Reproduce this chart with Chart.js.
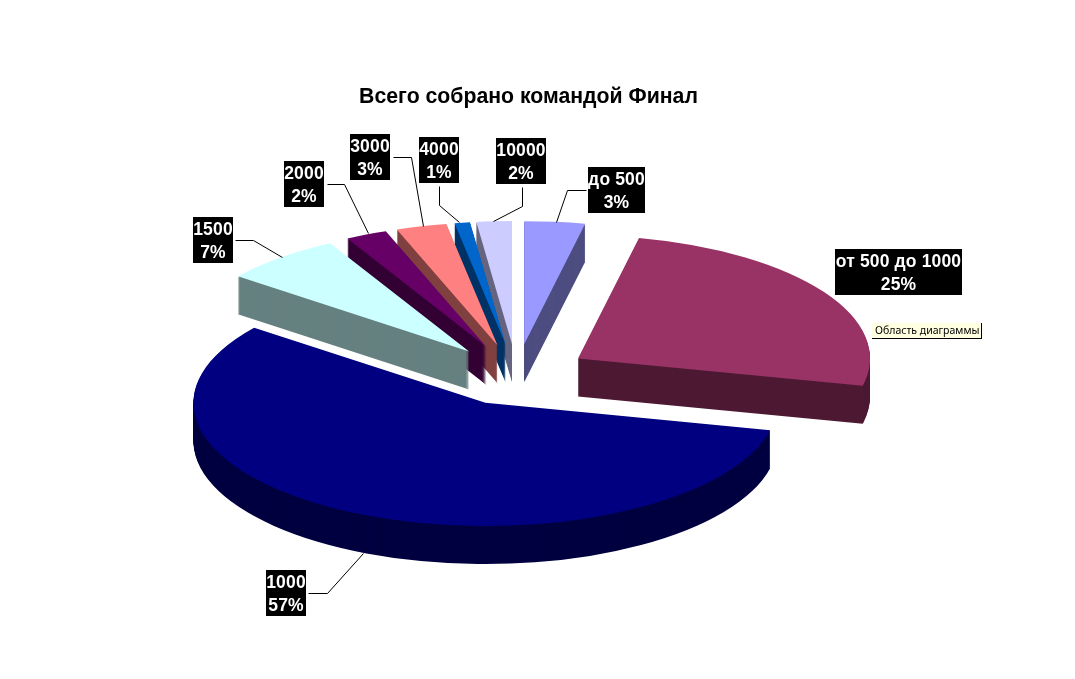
<!DOCTYPE html>
<html lang="ru">
<head>
<meta charset="utf-8">
<title>Всего собрано командой Финал</title>
<style>html,body{margin:0;padding:0;background:#fff}canvas{display:block}</style>
<script src="https://cdn.jsdelivr.net/npm/chart.js@4/dist/chart.umd.min.js"></script>
</head>
<body>
<canvas id="c" width="1075" height="679"></canvas>
<script>
// --- data ---
const categories = ['до 500','от 500 до 1000','1000','1500','2000','3000','4000','10000'];
const shares = [3.35, 25.2, 56.9, 6.65, 2.3, 2.8, 0.85, 1.95];
const percentLabels = ['3%','25%','57%','7%','2%','3%','1%','2%'];
const titleText = 'Всего собрано командой Финал';
const hintText = 'Область диаграммы';
// --- style ---
const topColors  = ['#9999ff','#993366','#000080','#ccffff','#660066','#ff8080','#0066cc','#ccccff'];
const wallColors = ['#4d4d80','#4d1933','#000040','#668080','#330033','#804040','#003366','#666680'];
const drawOrder = [0,1,7,6,5,4,3,2];
const CX = 516.5, CY = 375, RADIUS = 292, SQUASH = 0.422, EXPLODE = 73, DEPTH = 38;
// label boxes [x0,y0,x1,y1]
const boxes = [[588,167,645,213],[835,249,962,295],[266,570,306,616],[193,217,233,263],
               [284,161,324,207],[350,134,390,180],[419,137,459,183],[496,138,546,184]];
const leaders = [[[586,190],[567,190],[556,222]],null,[[308,593],[327,593],[363,553]],
                 [[235,240],[253,240],[282,257]],[[327,184],[344,184],[368,233]],
                 [[393,157],[411,157],[423,226]],[[439,186],[439,205],[459,222]],
                 [[522,187],[522,206],[493,221]]];

const pie3d = {
  id:'pie3d',
  beforeDatasetsDraw(chart){
    const ctx = chart.ctx, arcs = chart.getDatasetMeta(0).data;
    const place = (a, dy) => {
      const mid = (a.startAngle + a.endAngle) / 2;
      ctx.translate(CX, CY + dy);
      ctx.scale(1, SQUASH);
      ctx.translate(-a.x, -a.y);
      ctx.translate(Math.cos(mid) * EXPLODE, Math.sin(mid) * EXPLODE);
    };
    drawOrder.forEach(i => {
      const a = arcs[i];
      ctx.fillStyle = wallColors[i];
      for (let d = DEPTH; d > 0; d--) {
        ctx.save();
        place(a, d);
        ctx.beginPath();
        ctx.moveTo(a.x, a.y);
        ctx.arc(a.x, a.y, a.outerRadius, a.startAngle, a.endAngle);
        ctx.closePath();
        ctx.fill();
        ctx.restore();
      }
      ctx.save();
      place(a, 0);
      a.draw(ctx);
      ctx.restore();
    });
    return false;
  },
  afterDraw(chart){
    const ctx = chart.ctx;
    ctx.save();
    ctx.strokeStyle = '#000';
    ctx.lineWidth = 1;
    leaders.forEach(l => {
      if (!l) return;
      ctx.beginPath();
      l.forEach((p,k) => k ? ctx.lineTo(p[0]+.5,p[1]+.5) : ctx.moveTo(p[0]+.5,p[1]+.5));
      ctx.stroke();
    });
    ctx.textAlign = 'center';
    ctx.textBaseline = 'middle';
    ctx.font = 'bold 17.5px "Liberation Sans", Arial, sans-serif';
    ctx.letterSpacing = '0.15px';
    categories.forEach((name,i) => {
      const [x0,y0,x1,y1] = boxes[i];
      ctx.fillStyle = '#000';
      ctx.fillRect(x0,y0,x1-x0,y1-y0);
      ctx.fillStyle = '#fff';
      const mx = (x0+x1)/2;
      ctx.fillText(name, mx, y0+13);
      ctx.fillText(percentLabels[i], mx, y0+36);
    });
    ctx.letterSpacing = '0px';
    // hint box
    ctx.fillStyle = '#ffffe1';
    ctx.fillRect(872,323,110,16);
    ctx.fillStyle = '#000';
    ctx.fillRect(981,323,1,16);
    ctx.fillRect(872,338,110,1);
    ctx.textAlign = 'left';
    ctx.font = '10.5px "Noto Sans", sans-serif';
    ctx.fillText(hintText, 875, 331);
    ctx.restore();
  }
};

new Chart(document.getElementById('c'), {
  type:'pie',
  data:{labels:categories, datasets:[{data:shares, backgroundColor:topColors, borderWidth:0}]},
  options:{
    responsive:false, animation:false, devicePixelRatio:1,
    radius:RADIUS,
    layout:{padding:{top:84,right:18,bottom:0,left:0}},
    plugins:{
      legend:{display:false}, tooltip:{enabled:false},
      title:{display:true,text:titleText,color:'#000',padding:0,
             font:{family:'"Liberation Sans", Arial, sans-serif',size:21.25,weight:'bold',lineHeight:1.2}}
    }
  },
  plugins:[pie3d]
});
</script>
</body>
</html>
